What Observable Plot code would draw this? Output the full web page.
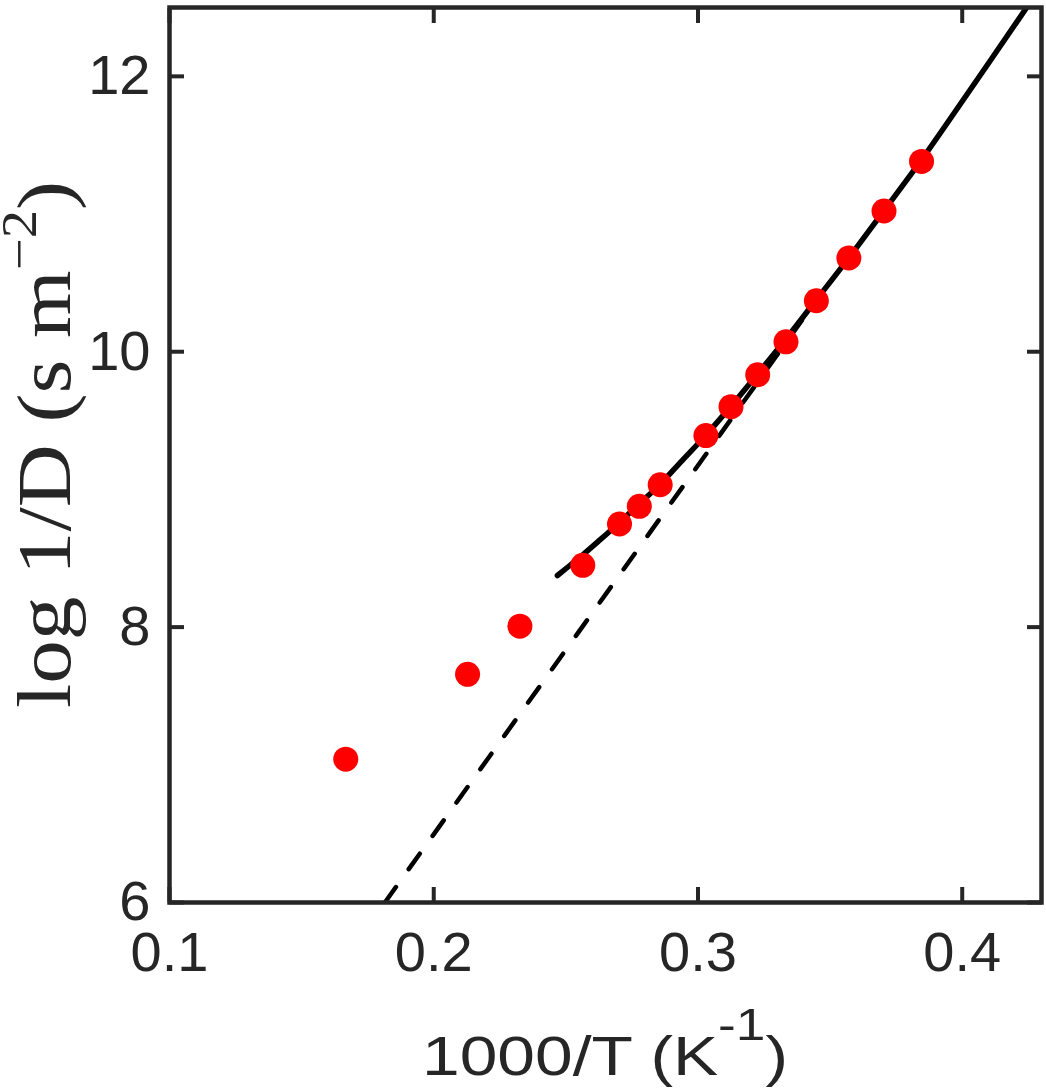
<!DOCTYPE html>
<html><head><meta charset="utf-8">
<script src="https://cdn.jsdelivr.net/npm/d3@7"></script>
<script src="https://cdn.jsdelivr.net/npm/@observablehq/plot@0.6"></script>
<style>
html,body{margin:0;padding:0;background:#fff;}
#chart svg{display:block;overflow:visible;}
</style>
</head><body><div id="chart"></div>
<script>
// measured points: x = 1000/T (K^-1), y = log 1/D
const pointX = [0.1667, 0.2128, 0.2326, 0.2564, 0.2703, 0.2778, 0.2857, 0.3030, 0.3125, 0.3226, 0.3333, 0.3448, 0.3571, 0.3704, 0.3846];
const pointY = [7.041, 7.657, 8.007, 8.449, 8.749, 8.877, 9.034, 9.391, 9.601, 9.833, 10.072, 10.370, 10.681, 11.022, 11.382];
// solid fitted curve
const fitX = [0.2468, 0.2561, 0.2630, 0.2700, 0.2775, 0.2855, 0.2940, 0.3028, 0.3125, 0.3222, 0.3330, 0.3445, 0.3570, 0.3702, 0.3841, 0.4040, 0.4239, 0.4300];
const fitY = [8.375, 8.520, 8.635, 8.755, 8.890, 9.035, 9.210, 9.390, 9.605, 9.830, 10.085, 10.370, 10.680, 11.020, 11.380, 11.930, 12.486, 12.660];
// dashed straight line
const dashX = [0.1815, 0.345];
const dashY = [6.0, 10.38];
// axes
const xTicks = [0.1, 0.2, 0.3, 0.4];
const xTickLabels = ["0.1", "0.2", "0.3", "0.4"];
const yTicks = [6, 8, 10, 12];
const yTickLabels = ["6", "8", "10", "12"];
const xDomain = [0.1, 0.43];
const yDomain = [6, 12.5];
const xLabelMain = "1000/T (K", xLabelSup = "-1", xLabelEnd = ")";
const yLabelMain = "log 1/D (s m", yLabelSup = "\u22122", yLabelEnd = ")";

const points = pointX.map((x, i) => ({x, y: pointY[i]}));
const fit = fitX.map((x, i) => ({x, y: fitY[i]}));
const dash = dashX.map((x, i) => ({x, y: dashY[i]}));

const W = 1046, H = 1091;
const ink = "#262626";
const sans = "'Liberation Sans', Arial, Helvetica, sans-serif";

const chart = Plot.plot({
  width: W, height: H,
  marginLeft: 169, marginRight: 5, marginTop: 7, marginBottom: 189,
  style: {fontFamily: sans, background: "#fff", color: ink},
  x: {domain: xDomain},
  y: {domain: yDomain},
  marks: [
    Plot.line(dash, {x: "x", y: "y", stroke: "#000", strokeWidth: 4.5, strokeDasharray: "19,22", clip: true}),
    Plot.line(fit, {x: "x", y: "y", stroke: "#000", strokeWidth: 5.5, curve: "catmull-rom", clip: true}),
    Plot.dot(points, {x: "x", y: "y", r: 12.5, fill: "#ff0000", stroke: "none"}),
    Plot.axisX(xTicks, {anchor: "bottom", tickSize: -15, tickPadding: 44, stroke: ink, strokeWidth: 4,
      fill: ink, fontSize: 56, fontFamily: sans, label: null,
      tickFormat: d => xTickLabels[xTicks.indexOf(d)]}),
    Plot.axisX(xTicks, {anchor: "top", tickSize: -15, stroke: ink, strokeWidth: 4, fill: "none", label: null, tickFormat: () => ""}),
    Plot.axisY(yTicks, {anchor: "left", tickSize: -15, tickPadding: 34, stroke: ink, strokeWidth: 4,
      fill: ink, fontSize: 56, fontFamily: sans, label: null,
      tickFormat: d => yTickLabels[yTicks.indexOf(d)]}),
    Plot.axisY(yTicks, {anchor: "right", tickSize: -15, stroke: ink, strokeWidth: 4, fill: "none", label: null, tickFormat: () => ""}),
    Plot.frame({stroke: ink, strokeWidth: 4.5})
  ]
});
document.getElementById("chart").appendChild(chart);

const sx = chart.scale("x"), sy = chart.scale("y");
const cx = (sx.apply(xDomain[0]) + sx.apply(xDomain[1])) / 2;
const cy = (sy.apply(yDomain[0]) + sy.apply(yDomain[1])) / 2;
const svg = d3.select(chart);

// x label
const xl = svg.append("text")
  .attr("x", cx).attr("y", sy.apply(yDomain[0]) + 173)
  .attr("text-anchor", "middle")
  .attr("font-family", sans).attr("font-size", 56).attr("fill", ink)
  .attr("textLength", 366).attr("lengthAdjust", "spacingAndGlyphs");
xl.append("tspan").text(xLabelMain);
xl.append("tspan").attr("font-size", 44).attr("dy", -35).text(xLabelSup);
xl.append("tspan").attr("dy", 35).text(xLabelEnd);

// y label
const yl = svg.append("text")
  .attr("transform", `translate(70,${cy - 10}) rotate(-90)`)
  .attr("text-anchor", "middle")
  .attr("font-family", "'Liberation Serif', 'Times New Roman', serif").attr("font-size", 77).attr("fill", ink)
  .attr("textLength", 527).attr("lengthAdjust", "spacingAndGlyphs");
yl.append("tspan").text(yLabelMain);
yl.append("tspan").attr("font-size", 50).attr("dy", -34).text(yLabelSup);
yl.append("tspan").attr("dy", 34).text(yLabelEnd);
</script>
</body></html>
